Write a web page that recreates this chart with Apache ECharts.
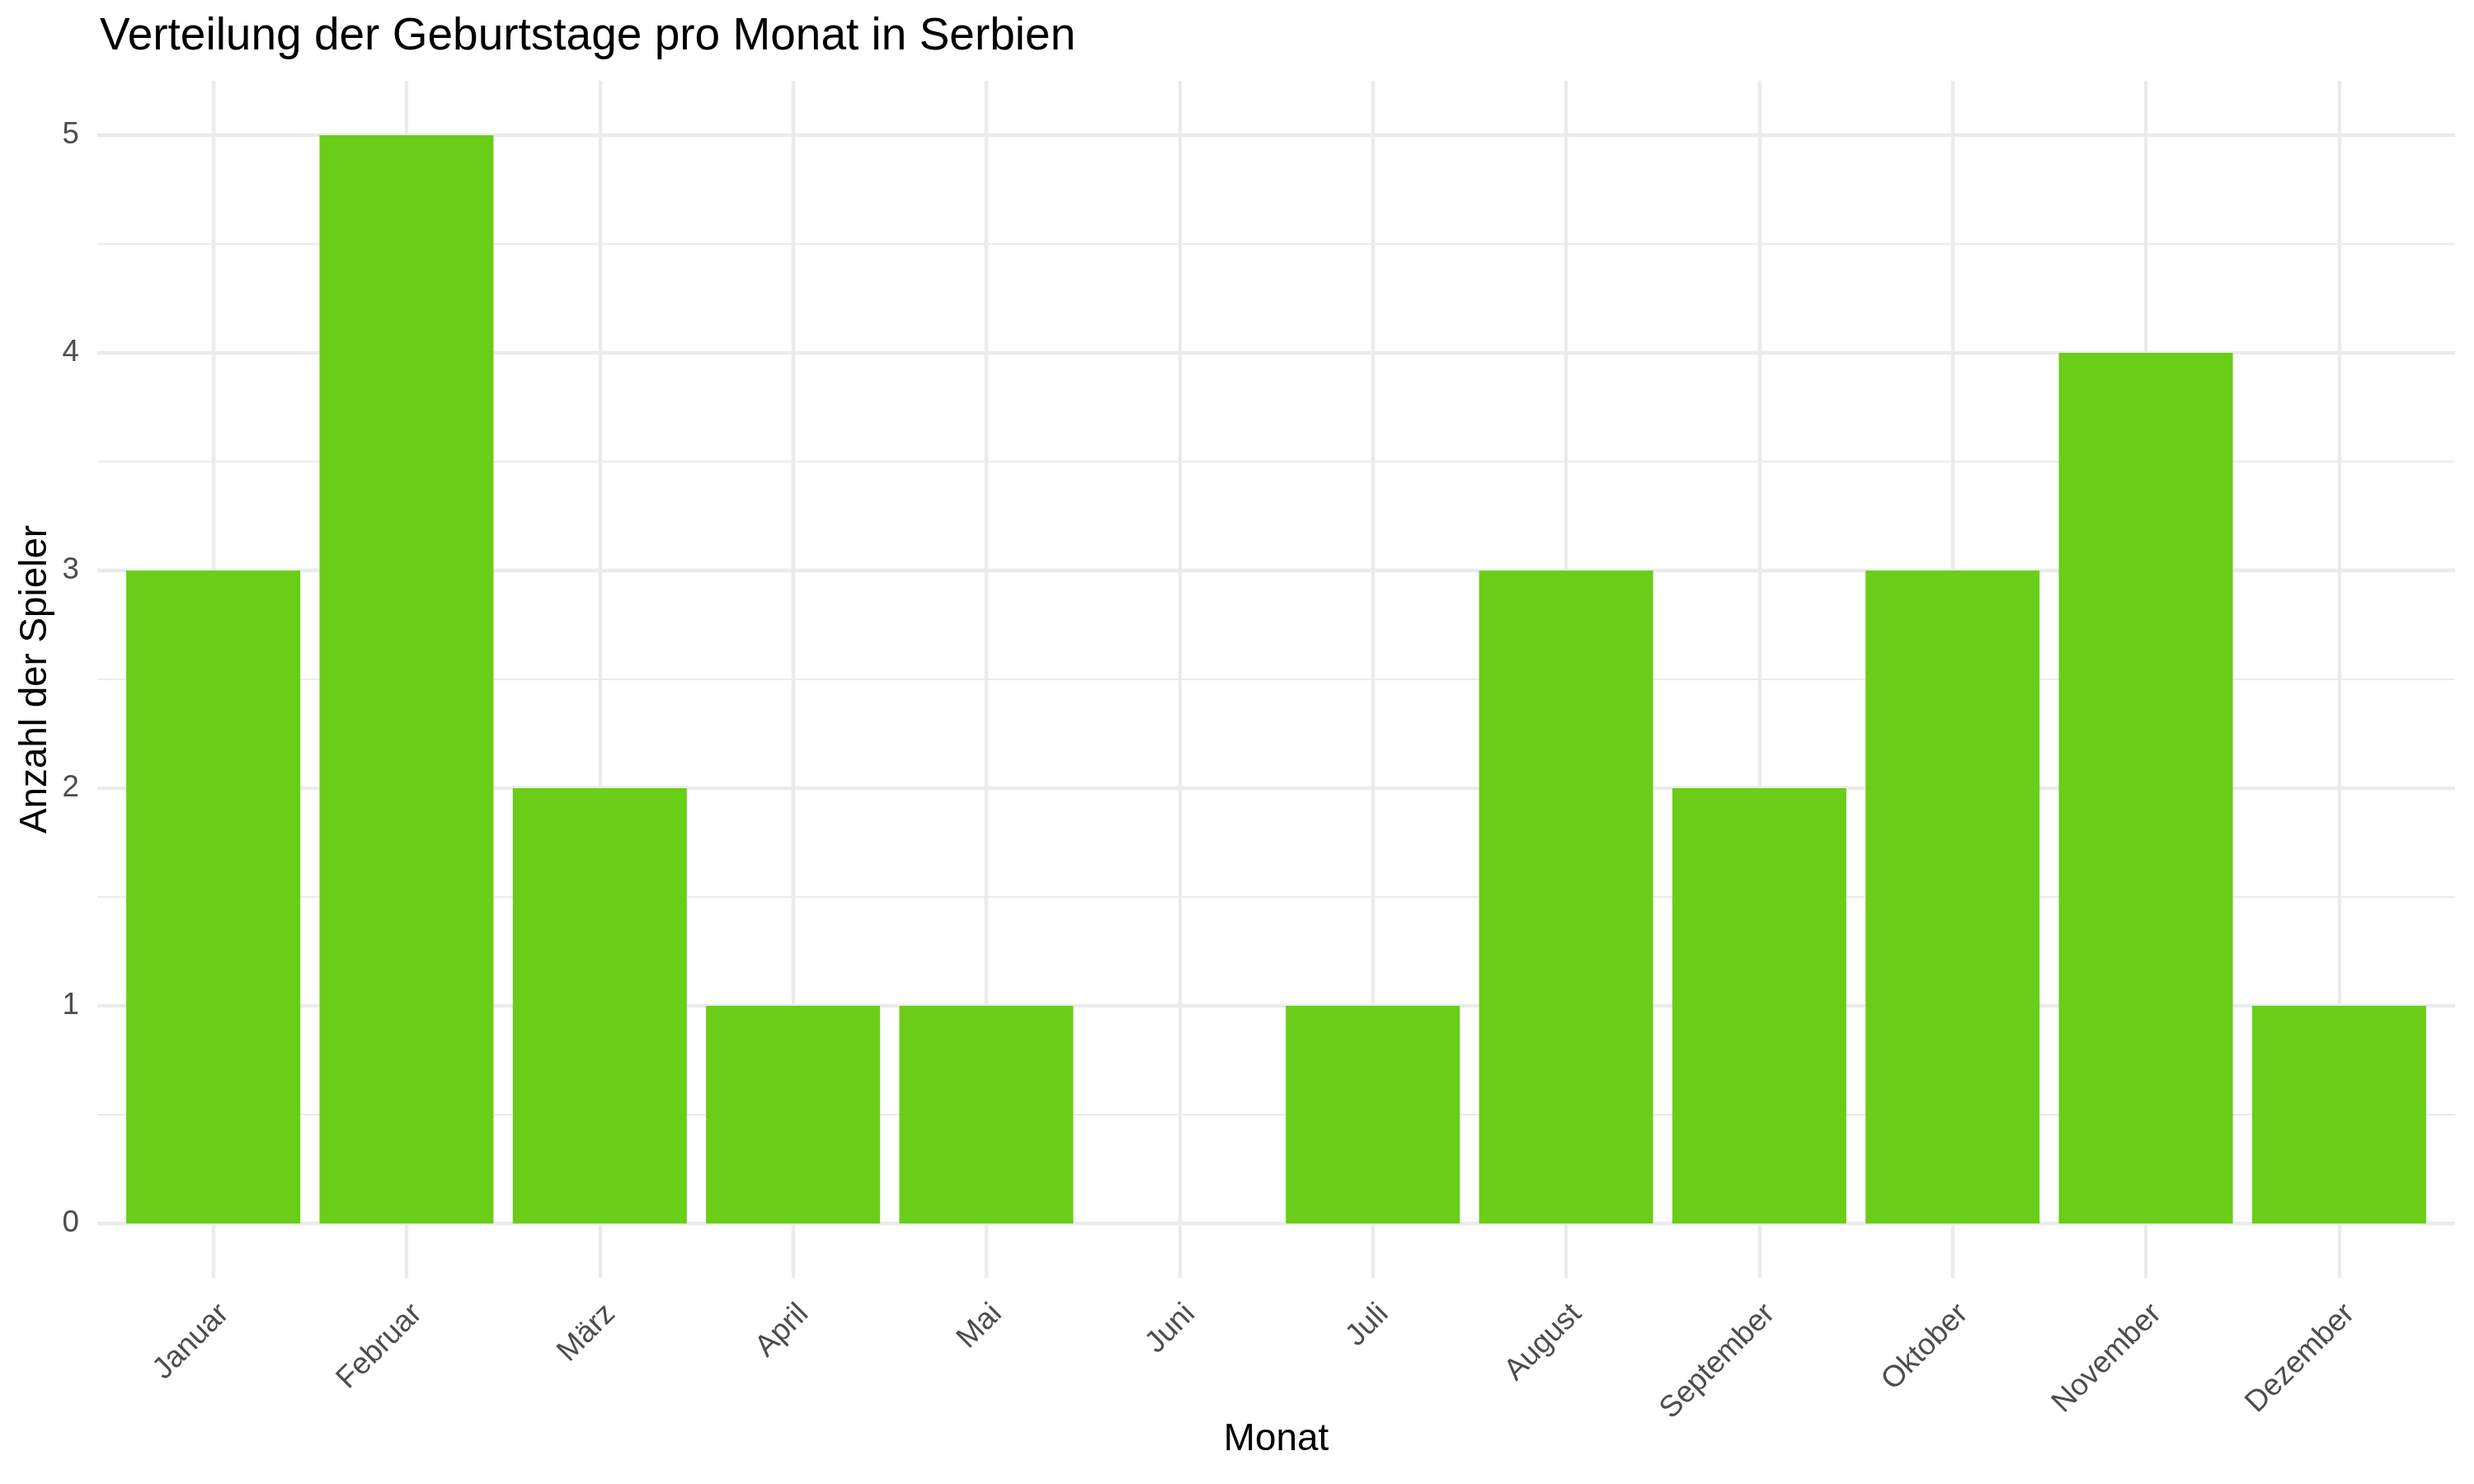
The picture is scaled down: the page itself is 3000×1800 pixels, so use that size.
<!DOCTYPE html>
<html>
<head>
<meta charset="utf-8">
<script src="https://cdn.jsdelivr.net/npm/echarts@6/dist/echarts.min.js"></script>
<style>
html,body{margin:0;padding:0;background:#fff;}
#chart{width:3000px;height:1800px;}
</style>
</head>
<body>
<div id="chart"></div>
<script>
const months = ['Januar','Februar','März','April','Mai','Juni','Juli','August','September','Oktober','November','Dezember'];
const counts = [3,5,2,1,1,0,1,3,2,3,4,1];
const yTicks = [0,1,2,3,4,5];
const yMinor = [0.5,1.5,2.5,3.5,4.5];
const xTicks = [1,2,3,4,5,6,7,8,9,10,11,12];

const FONT = 'Liberation Sans, Arial, Helvetica, sans-serif';
const GRID = '#EBEBEB';

const gridLines = []
  .concat(yMinor.map(v => ({ yAxis: v, lineStyle: { width: 2.2, color: GRID, type: 'solid' } })))
  .concat(yTicks.map(v => ({ yAxis: v, lineStyle: { width: 4.45, color: GRID, type: 'solid' } })))
  .concat(xTicks.map(v => ({ xAxis: v, lineStyle: { width: 4.45, color: GRID, type: 'solid' } })));

const chart = echarts.init(document.getElementById('chart'), null, { renderer: 'canvas' });
chart.setOption({
  animation: false,
  backgroundColor: '#ffffff',
  textStyle: { fontFamily: FONT },
  title: {
    text: 'Verteilung der Geburtstage pro Monat in Serbien',
    left: 116,
    top: 12,
    textStyle: { fontSize: 55, fontWeight: 'normal', color: '#000000', fontFamily: FONT }
  },
  grid: { left: 118, right: 23, top: 98, bottom: 250 },
  xAxis: {
    type: 'value',
    min: 0.4,
    max: 12.6,
    splitLine: { show: false },
    axisLine: { show: false },
    axisTick: { show: false },
    axisLabel: {
      customValues: xTicks,
      formatter: v => months[Math.round(v) - 1],
      rotate: 45,
      verticalAlign: 'top',
      fontSize: 36.7,
      color: '#4D4D4D',
      margin: 25,
      fontFamily: FONT
    },
    name: 'Monat',
    nameLocation: 'middle',
    nameGap: 173,
    nameMoveOverlap: false,
    nameTextStyle: { fontSize: 45.8, color: '#000000', fontFamily: FONT }
  },
  yAxis: {
    type: 'value',
    min: -0.25,
    max: 5.25,
    splitLine: { show: false },
    axisLine: { show: false },
    axisTick: { show: false },
    axisLabel: {
      customValues: yTicks,
      fontSize: 36.7,
      color: '#4D4D4D',
      margin: 22,
      fontFamily: FONT
    },
    name: 'Anzahl der Spieler',
    nameLocation: 'middle',
    nameRotate: 90,
    nameGap: 52,
    nameMoveOverlap: false,
    nameTextStyle: { fontSize: 45.8, color: '#000000', fontFamily: FONT }
  },
  series: [{
    type: 'bar',
    data: counts.map((v, i) => [xTicks[i], v]),
    barWidth: 211,
    z: 3,
    itemStyle: { color: '#6ACD17' },
    markLine: {
      silent: true,
      z: 1,
      symbol: ['none', 'none'],
      label: { show: false },
      emphasis: { disabled: true },
      animation: false,
      data: gridLines
    }
  }]
});
</script>
</body>
</html>
